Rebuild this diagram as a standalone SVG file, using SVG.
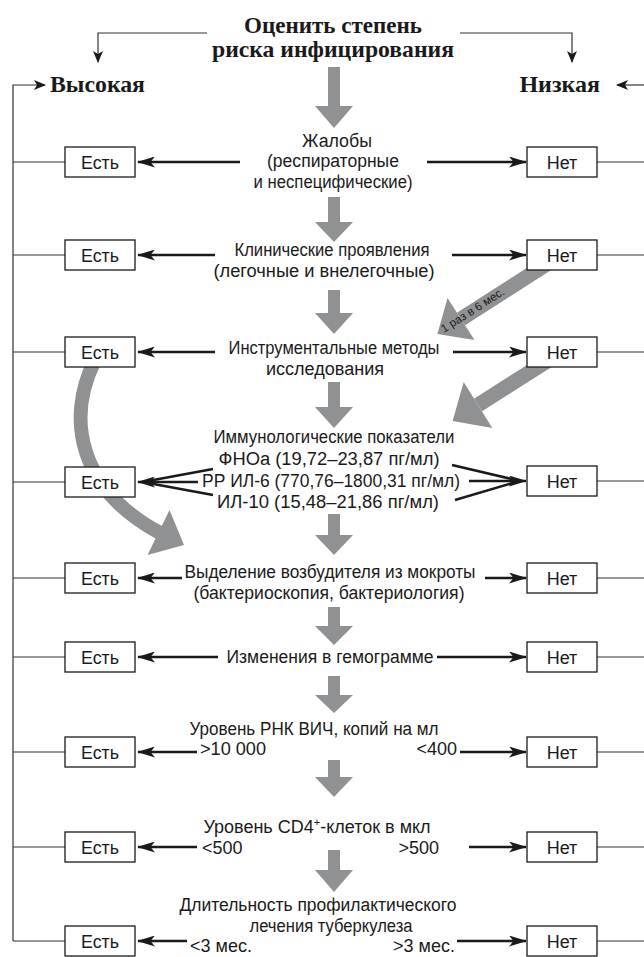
<svg xmlns="http://www.w3.org/2000/svg" width="644" height="957" viewBox="0 0 644 957">
<defs>
<style>
.t{font-family:"Liberation Sans",Arial,sans-serif;font-size:18px;fill:#1a1a1a}
.h{font-family:"Liberation Serif","Times New Roman",serif;font-weight:bold;fill:#1a1a1a}
.box{fill:#fff;stroke:#1a1a1a;stroke-width:1.3}
.ln{stroke:#1a1a1a;stroke-width:2.5;fill:none}
.thin{stroke:#333;stroke-width:1.2;fill:none}
.g{fill:#909192}
.gs{stroke:#909192;fill:none}
</style>
<marker id="ah" markerWidth="18" markerHeight="11" refX="17" refY="5.5" orient="auto" markerUnits="userSpaceOnUse"><path d="M0,0 L18,5.5 L0,11 L4.5,5.5 z" fill="#1a1a1a"/></marker>
<marker id="as" markerWidth="12" markerHeight="10" refX="11" refY="5" orient="auto" markerUnits="userSpaceOnUse"><path d="M0,0 L12,5 L0,10 L3,5 z" fill="#1a1a1a"/></marker>
</defs>
<rect width="644" height="957" fill="#fff"/>

<g id="connectors">
  <path class="thin" d="M207 33 H98 V62" marker-end="url(#as)"/>
  <path class="thin" d="M460 33 H572 V62" marker-end="url(#as)"/>
  <path class="thin" d="M13 941 V85 H45" marker-end="url(#as)"/>
  <path class="thin" d="M644 85 H617" marker-end="url(#as)"/>
  <path class="thin" d="M13 162 H65 M13 255 H65 M13 352 H65 M13 482 H65 M13 578 H65 M13 657 H65 M13 752 H65 M13 847 H65 M13 941 H65"/>
  <path class="thin" d="M597 162 H644 M597 255 H644 M597 352 H644 M597 481 H644 M597 578 H644 M597 657 H644 M597 752 H644 M597 847 H644 M597 941 H644"/>

  <path class="g" d="M328 67 H340 V106 H353 L334 128 L315 106 H328 Z"/>
  <path class="g" d="M328 197 H340 V222 H353 L334 242 L315 222 H328 Z"/>
  <path class="g" d="M328 290 H340 V313 H353 L334 334 L315 313 H328 Z"/>
  <path class="g" d="M328 382 H340 V407 H353 L334 428 L315 407 H328 Z"/>
  <path class="g" d="M328 514 H340 V535 H353 L334 555 L315 535 H328 Z"/>
  <path class="g" d="M328 607 H340 V626 H353 L334 645 L315 626 H328 Z"/>
  <path class="g" d="M328 676 H340 V695 H353 L334 713 L315 695 H328 Z"/>
  <path class="g" d="M328 760 H340 V777 H353 L334 797 L315 777 H328 Z"/>
  <path class="g" d="M328 850 H340 V870 H353 L334 892 L315 870 H328 Z"/>

  <path class="gs" stroke-width="14" d="M95 360 C65 420 80 490 160 533"/>
  <polygon class="g" points="169.5,510 184,545 147.5,555"/>

  <path class="gs" stroke-width="15" d="M550 262 L461 319"/>
  <polygon class="g" points="474.5,340 437.4,334.1 447.5,298"/>
  <text x="444" y="333" transform="rotate(-32.6 444 333)" font-family="Liberation Sans, Arial, sans-serif" font-size="11.5" fill="#1a1a1a">1 раз в 6 мес.</text>
  <path class="gs" stroke-width="15" d="M552 358 L478 405"/>
  <polygon class="g" points="492.3,427.9 452.6,420.9 463.7,382.1"/>

  <path class="ln" d="M240 162 H138" marker-end="url(#ah)"/>
  <path class="ln" d="M427 162 H526" marker-end="url(#ah)"/>
  <path class="ln" d="M215 255 H138" marker-end="url(#ah)"/>
  <path class="ln" d="M452 255 H526" marker-end="url(#ah)"/>
  <path class="ln" d="M215 352 H138" marker-end="url(#ah)"/>
  <path class="ln" d="M453 352 H526" marker-end="url(#ah)"/>
  <path class="ln" d="M213 469 L148 481 M213 495 L148 483"/>
  <path class="ln" d="M198 482 H138" marker-end="url(#ah)"/>
  <path class="ln" d="M452 465 L516 480 M455 500 L516 482"/>
  <path class="ln" d="M469 481 H526" marker-end="url(#ah)"/>
  <path class="ln" d="M182 578 H138" marker-end="url(#ah)"/>
  <path class="ln" d="M485 578 H526" marker-end="url(#ah)"/>
  <path class="ln" d="M218 657 H138" marker-end="url(#ah)"/>
  <path class="ln" d="M437 657 H526" marker-end="url(#ah)"/>
  <path class="ln" d="M197 752 H138" marker-end="url(#ah)"/>
  <path class="ln" d="M460 752 H526" marker-end="url(#ah)"/>
  <path class="ln" d="M197 847 H138" marker-end="url(#ah)"/>
  <path class="ln" d="M469 847 H526" marker-end="url(#ah)"/>
  <path class="ln" d="M187 941 H138" marker-end="url(#ah)"/>
  <path class="ln" d="M457 941 H526" marker-end="url(#ah)"/>
</g>

<g id="title">
  <text class="h" x="333" y="33" font-size="23" text-anchor="middle" textLength="178" lengthAdjust="spacingAndGlyphs">Оценить степень</text>
  <text class="h" x="333" y="57" font-size="23" text-anchor="middle" textLength="242" lengthAdjust="spacingAndGlyphs">риска инфицирования</text>
</g>
<g id="high"><text class="h" x="50" y="92" font-size="24" textLength="95" lengthAdjust="spacingAndGlyphs">Высокая</text></g>
<g id="low"><text class="h" x="600" y="92" font-size="24" text-anchor="end">Низкая</text></g>

<g id="row1">
  <text class="t" x="337" y="147" text-anchor="middle" textLength="70" lengthAdjust="spacingAndGlyphs">Жалобы</text>
  <text class="t" x="333" y="167" text-anchor="middle" textLength="132" lengthAdjust="spacingAndGlyphs">(респираторные</text>
  <text class="t" x="333" y="188" text-anchor="middle" textLength="159" lengthAdjust="spacingAndGlyphs">и неспецифические)</text>
</g>
<g id="row2">
  <text class="t" x="332" y="256" text-anchor="middle" textLength="195" lengthAdjust="spacingAndGlyphs">Клинические проявления</text>
  <text class="t" x="324" y="277" text-anchor="middle" textLength="221" lengthAdjust="spacingAndGlyphs">(легочные и внелегочные)</text>
</g>
<g id="row3">
  <text class="t" x="334" y="354" text-anchor="middle" textLength="211" lengthAdjust="spacingAndGlyphs">Инструментальные методы</text>
  <text class="t" x="325" y="375" text-anchor="middle" textLength="118" lengthAdjust="spacingAndGlyphs">исследования</text>
</g>
<g id="row4">
  <text class="t" x="334" y="443" text-anchor="middle" textLength="241" lengthAdjust="spacingAndGlyphs">Иммунологические показатели</text>
  <text class="t" x="329" y="465" text-anchor="middle" textLength="221" lengthAdjust="spacingAndGlyphs">ФНОа (19,72–23,87 пг/мл)</text>
  <text class="t" x="331" y="487" text-anchor="middle" textLength="258" lengthAdjust="spacingAndGlyphs">РР ИЛ-6 (770,76–1800,31 пг/мл)</text>
  <text class="t" x="328" y="508" text-anchor="middle" textLength="222" lengthAdjust="spacingAndGlyphs">ИЛ-10 (15,48–21,86 пг/мл)</text>
</g>
<g id="row5">
  <text class="t" x="330" y="578" text-anchor="middle" textLength="291" lengthAdjust="spacingAndGlyphs">Выделение возбудителя из мокроты</text>
  <text class="t" x="329" y="599" text-anchor="middle" textLength="271" lengthAdjust="spacingAndGlyphs">(бактериоскопия, бактериология)</text>
</g>
<g id="row6">
  <text class="t" x="330" y="663" text-anchor="middle" textLength="207" lengthAdjust="spacingAndGlyphs">Изменения в гемограмме</text>
</g>
<g id="row7">
  <text class="t" x="314" y="735" text-anchor="middle" textLength="249" lengthAdjust="spacingAndGlyphs">Уровень РНК ВИЧ, копий на мл</text>
  <text class="t" x="200" y="755" textLength="66" lengthAdjust="spacingAndGlyphs">&gt;10 000</text>
  <text class="t" x="457" y="755" text-anchor="end">&lt;400</text>
</g>
<g id="row8">
  <text class="t" x="317" y="833" text-anchor="middle">Уровень CD4<tspan font-size="11" dy="-7">+</tspan><tspan dy="7">-клеток в мкл</tspan></text>
  <text class="t" x="202" y="854">&lt;500</text>
  <text class="t" x="439" y="854" text-anchor="end">&gt;500</text>
</g>
<g id="row9">
  <text class="t" x="318" y="911" text-anchor="middle" textLength="277" lengthAdjust="spacingAndGlyphs">Длительность профилактического</text>
  <text class="t" x="331" y="932" text-anchor="middle" textLength="163" lengthAdjust="spacingAndGlyphs">лечения туберкулеза</text>
  <text class="t" x="190" y="952">&lt;3 мес.</text>
  <text class="t" x="455" y="952" text-anchor="end">&gt;3 мес.</text>
</g>

<g id="yes-boxes">
  <g id="yes1"><rect class="box" x="65" y="147" width="70" height="30"/><text class="t" x="100" y="169" text-anchor="middle" textLength="38" lengthAdjust="spacingAndGlyphs">Есть</text></g>
  <g id="yes2"><rect class="box" x="65" y="240" width="70" height="30"/><text class="t" x="100" y="262" text-anchor="middle" textLength="38" lengthAdjust="spacingAndGlyphs">Есть</text></g>
  <g id="yes3"><rect class="box" x="65" y="337" width="70" height="30"/><text class="t" x="100" y="359" text-anchor="middle" textLength="38" lengthAdjust="spacingAndGlyphs">Есть</text></g>
  <g id="yes4"><rect class="box" x="65" y="467" width="70" height="30"/><text class="t" x="100" y="489" text-anchor="middle" textLength="38" lengthAdjust="spacingAndGlyphs">Есть</text></g>
  <g id="yes5"><rect class="box" x="65" y="563" width="70" height="30"/><text class="t" x="100" y="585" text-anchor="middle" textLength="38" lengthAdjust="spacingAndGlyphs">Есть</text></g>
  <g id="yes6"><rect class="box" x="65" y="642" width="70" height="30"/><text class="t" x="100" y="664" text-anchor="middle" textLength="38" lengthAdjust="spacingAndGlyphs">Есть</text></g>
  <g id="yes7"><rect class="box" x="65" y="737" width="70" height="30"/><text class="t" x="100" y="759" text-anchor="middle" textLength="38" lengthAdjust="spacingAndGlyphs">Есть</text></g>
  <g id="yes8"><rect class="box" x="65" y="832" width="70" height="30"/><text class="t" x="100" y="854" text-anchor="middle" textLength="38" lengthAdjust="spacingAndGlyphs">Есть</text></g>
  <g id="yes9"><rect class="box" x="65" y="926" width="70" height="30"/><text class="t" x="100" y="948" text-anchor="middle" textLength="38" lengthAdjust="spacingAndGlyphs">Есть</text></g>
</g>
<g id="no-boxes">
  <g id="no1"><rect class="box" x="527" y="147" width="70" height="30"/><text class="t" x="562" y="169" text-anchor="middle">Нет</text></g>
  <g id="no2"><rect class="box" x="527" y="240" width="70" height="30"/><text class="t" x="562" y="262" text-anchor="middle">Нет</text></g>
  <g id="no3"><rect class="box" x="527" y="337" width="70" height="30"/><text class="t" x="562" y="359" text-anchor="middle">Нет</text></g>
  <g id="no4"><rect class="box" x="527" y="466" width="70" height="30"/><text class="t" x="562" y="488" text-anchor="middle">Нет</text></g>
  <g id="no5"><rect class="box" x="527" y="563" width="70" height="30"/><text class="t" x="562" y="585" text-anchor="middle">Нет</text></g>
  <g id="no6"><rect class="box" x="527" y="642" width="70" height="30"/><text class="t" x="562" y="664" text-anchor="middle">Нет</text></g>
  <g id="no7"><rect class="box" x="527" y="737" width="70" height="30"/><text class="t" x="562" y="759" text-anchor="middle">Нет</text></g>
  <g id="no8"><rect class="box" x="527" y="832" width="70" height="30"/><text class="t" x="562" y="854" text-anchor="middle">Нет</text></g>
  <g id="no9"><rect class="box" x="527" y="926" width="70" height="30"/><text class="t" x="562" y="948" text-anchor="middle">Нет</text></g>
</g>
</svg>
